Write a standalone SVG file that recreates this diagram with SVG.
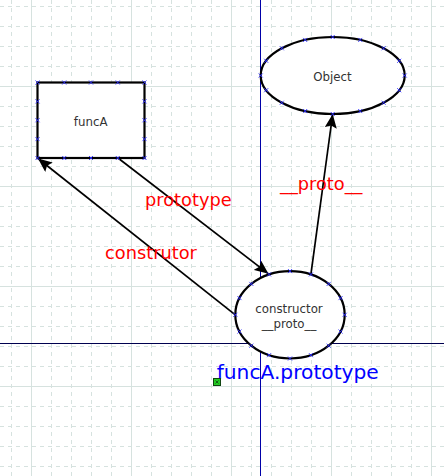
<svg xmlns="http://www.w3.org/2000/svg" xmlns:xlink="http://www.w3.org/1999/xlink" width="444" height="476" viewBox="0 0 444 476">
<style>
.minor{stroke:#d6e2df;stroke-width:1;stroke-dasharray:4 4;fill:none}
.major{stroke:#d6e2df;stroke-width:1;fill:none}
.shape{fill:#ffffff;stroke:#000000;stroke-width:2.2}
.conn{stroke:#000000;stroke-width:1.7;fill:none;marker-end:url(#arr)}
.ntext{font-family:"DejaVu Sans",sans-serif;font-size:11.8px;fill:#333333;text-anchor:middle}
.rlabel{font-family:"DejaVu Sans",sans-serif;font-size:17.8px;fill:#ff0000}
.blabel{font-family:"DejaVu Sans",sans-serif;font-size:20.2px;fill:#0000ff}
.mk{stroke:#2828ff;stroke-width:0.9;fill:none}
</style>
<defs>
<marker id="arr" markerUnits="userSpaceOnUse" markerWidth="14" markerHeight="12" viewBox="0 0 14 12" refX="14" refY="6" orient="auto">
<path d="M0,0 L14,6 L0,12 L2.5,6 z" fill="#000000"/>
</marker>
<path id="x" class="mk" d="M-2,-2 L2,2 M-2,2 L2,-2"/>
</defs>
<rect width="444" height="476" fill="#ffffff"/>
<g id="grid">
<path class="minor" d="M11.5,0V476 M51.5,0V476 M71.5,0V476 M91.5,0V476 M111.5,0V476 M151.5,0V476 M171.5,0V476 M191.5,0V476 M211.5,0V476 M251.5,0V476 M271.5,0V476 M291.5,0V476 M311.5,0V476 M351.5,0V476 M371.5,0V476 M391.5,0V476 M411.5,0V476"/>
<path class="minor" d="M0,6.5H444 M0,26.5H444 M0,46.5H444 M0,66.5H444 M0,106.5H444 M0,126.5H444 M0,146.5H444 M0,166.5H444 M0,206.5H444 M0,226.5H444 M0,246.5H444 M0,266.5H444 M0,306.5H444 M0,326.5H444 M0,346.5H444 M0,366.5H444 M0,406.5H444 M0,426.5H444 M0,446.5H444 M0,466.5H444"/>
<path class="major" d="M31.5,0V476 M131.5,0V476 M231.5,0V476 M331.5,0V476 M431.5,0V476 M0,86.5H444 M0,186.5H444 M0,286.5H444 M0,386.5H444"/>
<path d="M260.5,0V476" stroke="#0000a8" stroke-width="1"/>
<path d="M0,343.5H444" stroke="#00004f" stroke-width="1"/>
</g>
<g id="connectors">
<line class="conn" x1="118" y1="158" x2="268.5" y2="273.8"/>
<line class="conn" x1="235.3" y1="314.8" x2="38" y2="158.5"/>
<line class="conn" x1="310.9" y1="274.4" x2="332.7" y2="114"/>
</g>
<g id="funcA">
<rect class="shape" x="37.5" y="82.5" width="107" height="75.5"/>
<text class="ntext" x="90.7" y="125.7">funcA</text>
<use xlink:href="#x" x="37.5" y="82.5"/><use xlink:href="#x" x="64.25" y="82.5"/><use xlink:href="#x" x="91" y="82.5"/><use xlink:href="#x" x="117.75" y="82.5"/><use xlink:href="#x" x="144.5" y="82.5"/>
<use xlink:href="#x" x="37.5" y="158"/><use xlink:href="#x" x="64.25" y="158"/><use xlink:href="#x" x="91" y="158"/><use xlink:href="#x" x="117.75" y="158"/><use xlink:href="#x" x="144.5" y="158"/>
<use xlink:href="#x" x="37.5" y="101.4"/><use xlink:href="#x" x="37.5" y="120.25"/><use xlink:href="#x" x="37.5" y="139.1"/>
<use xlink:href="#x" x="144.5" y="101.4"/><use xlink:href="#x" x="144.5" y="120.25"/><use xlink:href="#x" x="144.5" y="139.1"/>
</g>
<g id="Object">
<ellipse class="shape" cx="332.7" cy="75.5" rx="72" ry="38.5"/>
<text class="ntext" x="332.5" y="80.5">Object</text>
<use xlink:href="#x" x="404.7" y="75.5"/><use xlink:href="#x" x="399.22" y="90.23"/><use xlink:href="#x" x="383.61" y="102.72"/><use xlink:href="#x" x="360.25" y="111.07"/><use xlink:href="#x" x="332.7" y="114"/><use xlink:href="#x" x="305.15" y="111.07"/><use xlink:href="#x" x="281.79" y="102.72"/><use xlink:href="#x" x="266.18" y="90.23"/><use xlink:href="#x" x="260.7" y="75.5"/><use xlink:href="#x" x="266.18" y="60.77"/><use xlink:href="#x" x="281.79" y="48.28"/><use xlink:href="#x" x="305.15" y="39.93"/><use xlink:href="#x" x="332.7" y="37"/><use xlink:href="#x" x="360.25" y="39.93"/><use xlink:href="#x" x="383.61" y="48.28"/><use xlink:href="#x" x="399.22" y="60.77"/>
</g>
<g id="funcA_prototype">
<ellipse class="shape" cx="290" cy="314.8" rx="54.7" ry="43.7"/>
<text class="ntext" x="289" y="312.5">constructor</text>
<text class="ntext" x="289" y="328">__proto__</text>
<use xlink:href="#x" x="344.7" y="314.8"/><use xlink:href="#x" x="340.54" y="331.52"/><use xlink:href="#x" x="328.68" y="345.7"/><use xlink:href="#x" x="310.93" y="355.17"/><use xlink:href="#x" x="290" y="358.5"/><use xlink:href="#x" x="269.07" y="355.17"/><use xlink:href="#x" x="251.32" y="345.7"/><use xlink:href="#x" x="239.46" y="331.52"/><use xlink:href="#x" x="235.3" y="314.8"/><use xlink:href="#x" x="239.46" y="298.08"/><use xlink:href="#x" x="251.32" y="283.9"/><use xlink:href="#x" x="269.07" y="274.43"/><use xlink:href="#x" x="290" y="271.1"/><use xlink:href="#x" x="310.93" y="274.43"/><use xlink:href="#x" x="328.68" y="283.9"/><use xlink:href="#x" x="340.54" y="298.08"/>
</g>
<g id="labels">
<text class="rlabel" x="145" y="206">prototype</text>
<text class="rlabel" x="105" y="258.5">construtor</text>
<text class="rlabel" x="280" y="189.5">__proto__</text>
<text class="blabel" x="216.7" y="379">funcA.prototype</text>
</g>
<g id="point">
<rect x="213.5" y="378.5" width="7" height="7" fill="#22cc22" stroke="#114411" stroke-width="1"/>
<path d="M215.5,380.5 L218.5,383.5 M215.5,383.5 L218.5,380.5" stroke="#114411" stroke-width="0.8"/>
</g>
</svg>
